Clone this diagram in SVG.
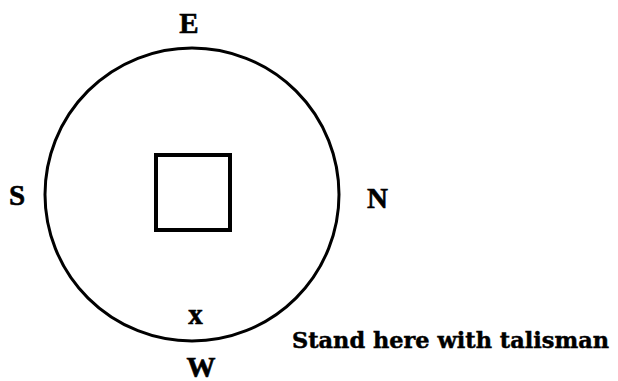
<svg xmlns="http://www.w3.org/2000/svg" width="618" height="381" viewBox="0 0 618 381">
<style>
.lbl{font-family:"Liberation Serif","DejaVu Serif",serif;font-weight:bold;font-size:29px;fill:#000;stroke:#000;stroke-width:0.6;text-anchor:middle}
.cap{font-family:"DejaVu Serif","Liberation Serif",serif;font-weight:bold;font-size:23px;fill:#000;stroke:#000;stroke-width:0.5}
.ln{fill:none;stroke:#000}
</style>
<rect width="618" height="381" fill="#fff"/>
<g id="circle"><ellipse class="ln" cx="192" cy="194.5" rx="147" ry="146.5" stroke-width="3"/></g>
<g id="square"><rect class="ln" x="156" y="155" width="74" height="75" stroke-width="4"/></g>
<g id="labels">
<text class="lbl" x="189" y="33">E</text>
<text class="lbl" x="17" y="205">S</text>
<text class="lbl" x="377.5" y="208">N</text>
<text class="lbl" x="201" y="377">W</text>
<text class="lbl" x="195.5" y="324">x</text>
<text class="cap" x="292" y="348" textLength="317" lengthAdjust="spacingAndGlyphs">Stand here with talisman</text>
</g>
</svg>
